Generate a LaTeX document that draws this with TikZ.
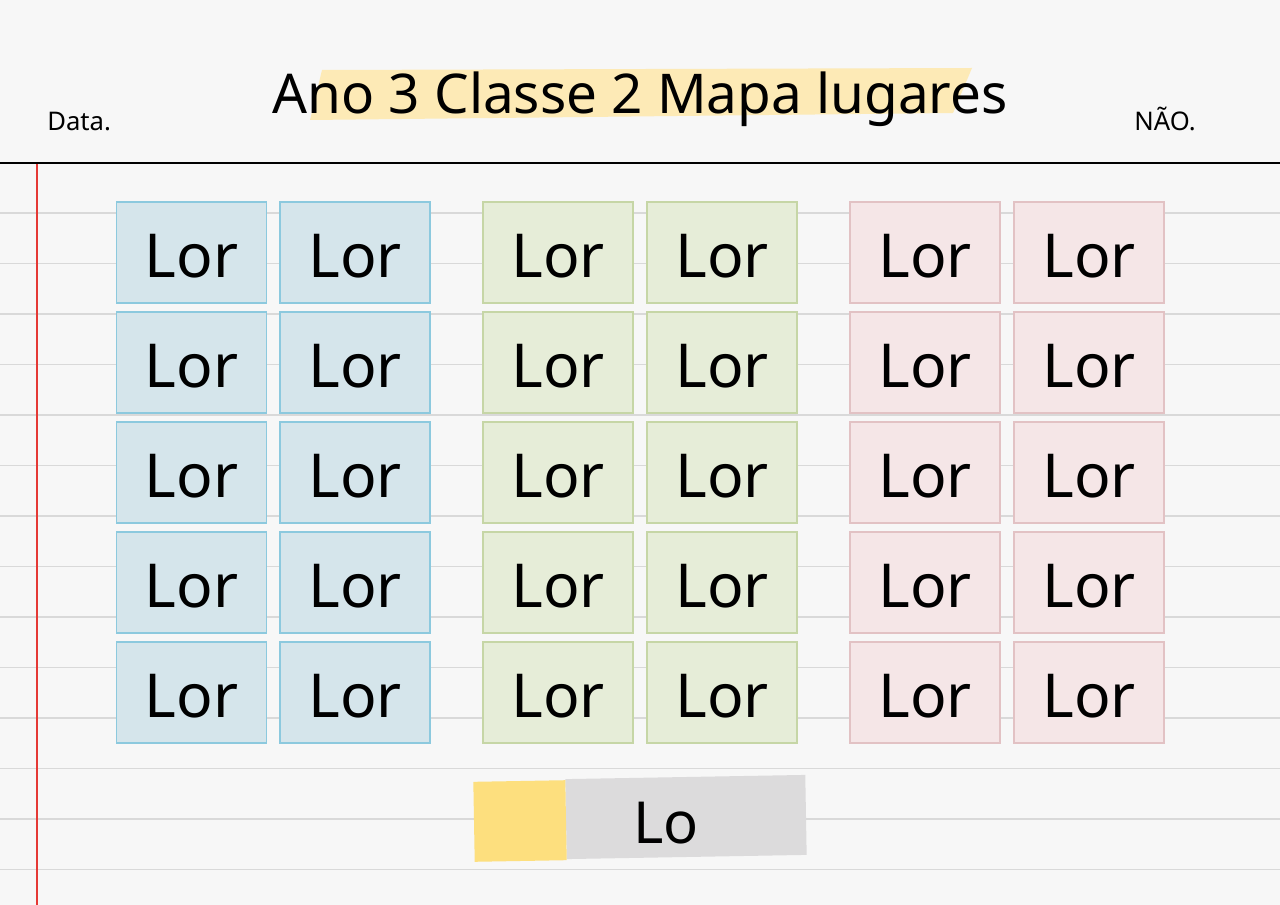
\documentclass[tikz,border=0pt]{standalone}
\usepackage{fontspec}
\setmainfont{Noto Sans}
\usetikzlibrary{positioning}
\definecolor{paper}{HTML}{F7F7F7}
\definecolor{ruleline}{HTML}{D9D9D9}
\definecolor{marginred}{HTML}{E53935}
\definecolor{blueseat}{HTML}{D5E5EB}
\definecolor{blueedge}{HTML}{8CC9DE}
\definecolor{greenseat}{HTML}{E6EDD8}
\definecolor{greenedge}{HTML}{C6D6A6}
\definecolor{pinkseat}{HTML}{F5E6E7}
\definecolor{pinkedge}{HTML}{E2C2C4}
\definecolor{marker}{HTML}{FDEAB6}
\definecolor{deskyellow}{HTML}{FDDF7E}
\definecolor{deskgray}{HTML}{DCDBDC}
\tikzset{
  seat/.style={minimum width=3cm, minimum height=2.02cm, inner sep=0pt,
               text height=28pt, text depth=0pt,
               line width=0.8pt, font=\fontsize{34.5}{40}\selectfont},
  blueseat/.style={seat, fill=blueseat, draw=blueedge},
  greenseat/.style={seat, fill=greenseat, draw=greenedge},
  pinkseat/.style={seat, fill=pinkseat, draw=pinkedge},
  smalltext/.style={font=\fontsize{14.6}{17}\selectfont, inner sep=0pt}
}

\begin{document}
\begin{tikzpicture}[x=0.02cm, y=-0.02cm]
  % Paper
  \useasboundingbox (0,0) rectangle (1280,905);
  \fill[paper] (0,0) rectangle (1280,905);

  % Ruled lines
  \foreach \i in {0,...,13}
    \draw[ruleline, line width=0.6pt] (0,{213+50.5*\i}) -- (1280,{213+50.5*\i});
  \draw[marginred, line width=1.2pt] (37,163) -- (37,905);
  \draw[black, line width=1.2pt] (0,163) -- (1280,163);

  % Heading
  \fill[marker] (322,70) -- (972,68) -- (953,113) -- (310,120) -- cycle;
  \node[anchor=base, inner sep=0pt, font=\fontsize{31.2}{36}\selectfont] (title) at (640,114)
    {Ano 3 Classe 2 Mapa lugares};
  \node[smalltext, anchor=base west] (date) at (47,131) {Data.};
  \node[smalltext, anchor=base east] (number) at (1196,131) {NÃO.};

  % Seats
  \foreach \r in {1,...,5} {
    \foreach \c/\x in {1/191.5, 2/355}
      \node[blueseat] (b\r\c) at (\x,{142.5+110*\r}) {Lor};
    \foreach \c/\x in {1/558, 2/722}
      \node[greenseat] (g\r\c) at (\x,{142.5+110*\r}) {Lor};
    \foreach \c/\x in {1/925, 2/1089}
      \node[pinkseat] (p\r\c) at (\x,{142.5+110*\r}) {Lor};
  }

  % Teacher desk
  \node[fill=deskgray, minimum width=4.8cm, minimum height=1.6cm, rotate=1] (desk) at (686,817) {};
  \node[fill=deskyellow, minimum width=1.84cm, minimum height=1.6cm, rotate=1] (deskend) at (520,821) {};
  \node[inner sep=0pt, font=\fontsize{33}{40}\selectfont] (desklabel) at (666,823) {Lo};
\end{tikzpicture}
\end{document}
